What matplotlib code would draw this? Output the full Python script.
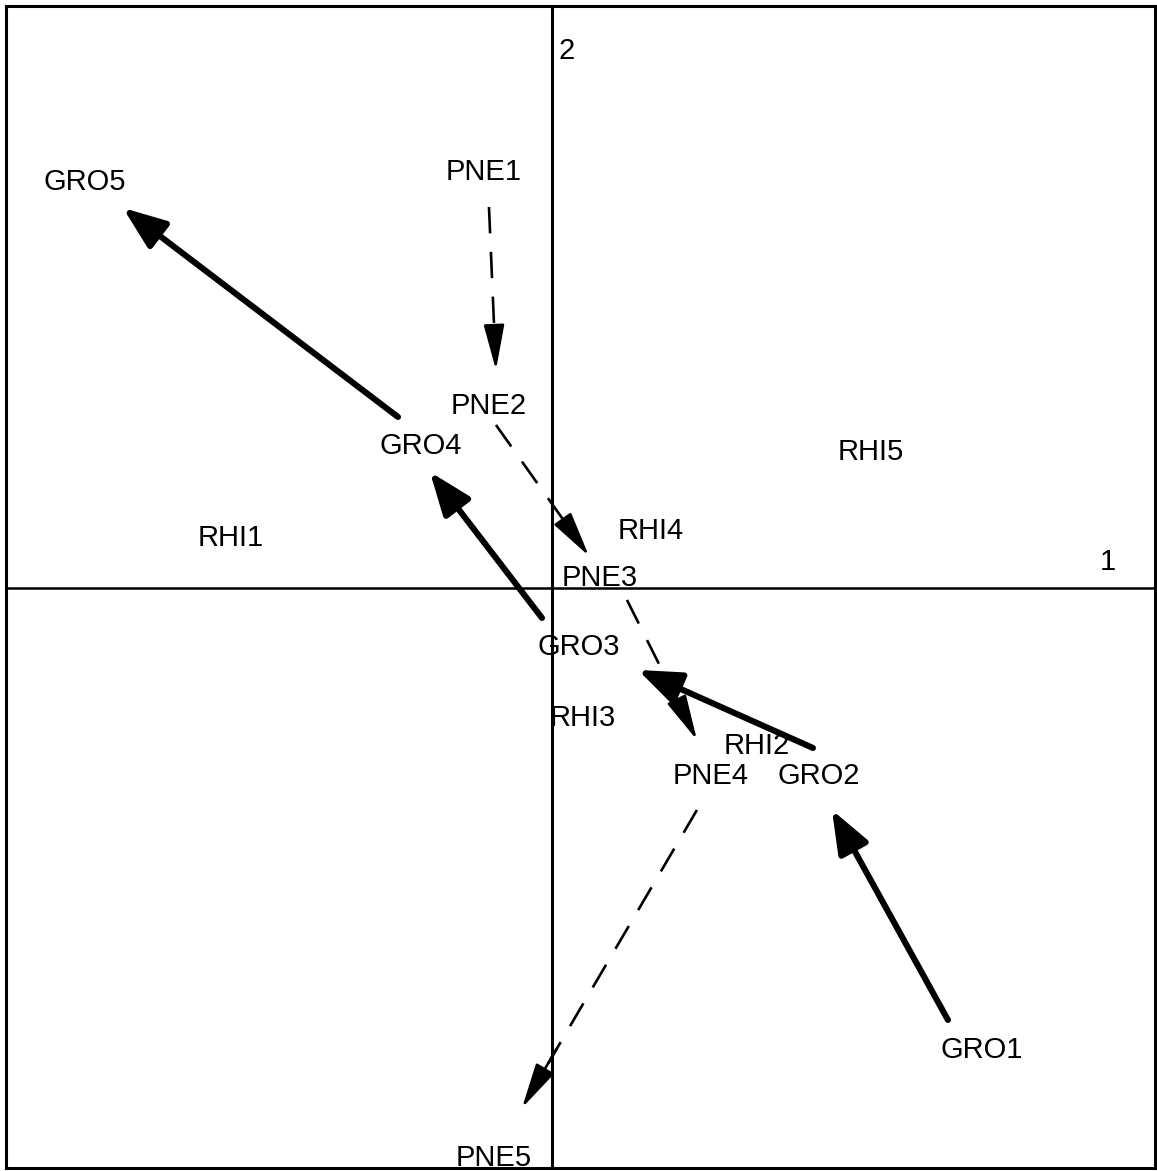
import matplotlib.pyplot as plt

plt.rcParams['font.family'] = ['Liberation Sans', 'DejaVu Sans']

# label positions on axes 1 and 2
labels = ["GRO1", "GRO2", "GRO3", "GRO4", "GRO5",
          "PNE1", "PNE2", "PNE3", "PNE4", "PNE5",
          "RHI1", "RHI2", "RHI3", "RHI4", "RHI5"]
lab_x = [4.30, 2.67, 0.27, -1.31, -4.67,
         -0.68, -0.63, 0.48, 1.59, -0.58,
         -3.21, 2.05, 0.31, 0.99, 3.19]
lab_y = [-4.62, -1.88, -0.59, 1.42, 4.06,
         4.16, 1.82, 0.10, -1.88, -5.70,
         0.50, -1.58, -1.30, 0.57, 1.36]

# GRO trajectory (solid arrows): tail -> head
gro_x0 = [3.96, 2.61, -0.10, -1.54]
gro_y0 = [-4.32, -1.60, -0.30, 1.71]
gro_x1 = [2.80, 0.86, -1.22, -4.29]
gro_y1 = [-2.22, -0.82, 1.16, 3.80]

# PNE trajectory (dashed arrows): tail -> head
pne_x0 = [-0.63, -0.56, 0.75, 1.45]
pne_y0 = [3.81, 1.63, -0.12, -2.22]
pne_x1 = [-0.56, 0.37, 1.45, -0.30]
pne_y1 = [2.18, 0.32, -1.52, -5.20]

fig = plt.figure(figsize=(11.57, 11.71), dpi=100)
ax = fig.add_axes([0.0052, 0.0026, 0.993, 0.9923])
ax.set_xlim(-5.46, 6.03)
ax.set_ylim(-5.80, 5.82)
ax.set_xticks([])
ax.set_yticks([])
for s in ax.spines.values():
    s.set_linewidth(2.2)

ax.axhline(0, color='black', lw=1.8)
ax.axvline(0, color='black', lw=2.2)
ax.text(0.07, 5.37, "2", fontsize=21, ha='left', va='center')
ax.text(5.56, 0.26, "1", fontsize=21, ha='center', va='center')

for t, x, y in zip(labels, lab_x, lab_y):
    ax.text(x, y, t, fontsize=21, ha='center', va='center')

for x0, y0, x1, y1 in zip(gro_x0, gro_y0, gro_x1, gro_y1):
    ax.annotate("", xy=(x1, y1), xytext=(x0, y0),
                arrowprops=dict(arrowstyle='-|>,head_length=1.3,head_width=0.5',
                                lw=4.4, color='black', mutation_scale=20,
                                shrinkA=0, shrinkB=0))

for x0, y0, x1, y1 in zip(pne_x0, pne_y0, pne_x1, pne_y1):
    # dashed shaft
    fx = x0 + (x1 - x0) * 0.85
    fy = y0 + (y1 - y0) * 0.85
    ax.plot([x0, fx], [y0, fy], color='black', lw=1.9,
            linestyle=(0, (10, 7)))
    # solid head
    hx = x1 - (x1 - x0) * 0.2
    hy = y1 - (y1 - y0) * 0.2
    ax.annotate("", xy=(x1, y1), xytext=(hx, hy),
                arrowprops=dict(arrowstyle='-|>,head_length=1.4,head_width=0.32',
                                lw=1.9, color='black', mutation_scale=20,
                                shrinkA=0, shrinkB=0))

fig.savefig("out.png", dpi=100)
